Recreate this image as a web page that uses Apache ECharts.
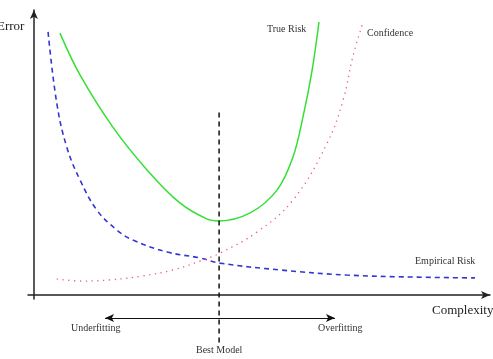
<!DOCTYPE html>
<html>
<head>
<meta charset="utf-8">
<script src="https://cdn.jsdelivr.net/npm/echarts@6/dist/echarts.min.js"></script>
<style>
  html, body { margin: 0; padding: 0; background: #fff; }
  #chart { width: 493px; height: 359px; }
</style>
</head>
<body>
<div id="chart"></div>
<script>
// curves, x = complexity, y = error (0..100)
const trueRisk = [
  [5.7, 91.9], [10.1, 77.2], [17.3, 58.9], [24.8, 43.9], [32.0, 32.3],
  [37.9, 26.7], [40.6, 26.0], [47.4, 28.8], [53.3, 36.8], [56.8, 48.4],
  [59.0, 62.5], [61.0, 78.9], [62.5, 95.8]
];
const empiricalRisk = [
  [3.1, 92.3], [5.0, 67.4], [7.2, 51.9], [10.1, 40.4], [13.8, 29.8],
  [18.2, 22.8], [21.7, 19.3], [29.2, 15.1], [36.4, 13.0], [40.8, 11.2],
  [53.9, 8.8], [68.6, 7.0], [83.1, 6.3], [96.7, 6.0]
];
const confidence = [
  [5.0, 5.6], [10.7, 4.9], [16.7, 5.3], [23.9, 6.7], [30.5, 8.8],
  [36.4, 11.9], [40.8, 14.7], [48.9, 22.1], [56.8, 33.3], [64.3, 53.3],
  [67.8, 68.4], [69.9, 83.5], [72.1, 95.4]
];
const bestModelX = 40.6;
const bestModelLine = [[bestModelX, 64], [bestModelX, -17]];
const fittingArrow = [[15.6, -8.1], [66.0, -8.1]];

const serif = '"Liberation Serif", "DejaVu Serif", serif';

const chart = echarts.init(document.getElementById('chart'));
chart.setOption({
  animation: false,
  grid: { left: 28, right: 3, top: 10, bottom: 60 },
  xAxis: {
    type: 'value', min: -1.3, max: 100,
    splitLine: { show: false }, axisTick: { show: false }, axisLabel: { show: false },
    axisLine: { onZero: true, symbol: ['none', 'arrow'], symbolSize: [6, 9],
      lineStyle: { color: '#222', width: 1.5 } }
  },
  yAxis: {
    type: 'value', min: -1.4, max: 100,
    splitLine: { show: false }, axisTick: { show: false }, axisLabel: { show: false },
    axisLine: { onZero: true, symbol: ['none', 'arrow'], symbolSize: [6, 9],
      lineStyle: { color: '#222', width: 1.5 } }
  },
  series: [
    {
      name: 'True Risk', type: 'line', data: trueRisk, smooth: 0.35,
      showSymbol: false, lineStyle: { color: '#33e033', width: 1.5 }
    },
    {
      name: 'Empirical Risk', type: 'line', data: empiricalRisk, smooth: 0.4,
      showSymbol: false, lineStyle: { color: '#3535d0', width: 1.6, type: [5, 4] }
    },
    {
      name: 'Confidence', type: 'line', data: confidence, smooth: 0.4,
      showSymbol: false, lineStyle: { color: '#e8607a', width: 1.3, type: [1.3, 4.5] }
    },
    {
      name: 'Best Model', type: 'line', data: bestModelLine, clip: false,
      showSymbol: false, lineStyle: { color: '#111', width: 1.5, type: [5, 4] }
    }
  ],
  graphic: [
    { type: 'text', left: -3, top: 20, style: { text: 'Error', font: '13px ' + serif, fill: '#222' } },
    { type: 'text', left: 432, top: 304, style: { text: 'Complexity', font: '13px ' + serif, fill: '#222' } },
    { type: 'text', left: 267, top: 24, style: { text: 'True Risk', font: '10px ' + serif, fill: '#333' } },
    { type: 'text', left: 367, top: 28, style: { text: 'Confidence', font: '10px ' + serif, fill: '#333' } },
    { type: 'text', left: 415, top: 256, style: { text: 'Empirical Risk', font: '10px ' + serif, fill: '#333' } },
    { type: 'text', left: 71, top: 323, style: { text: 'Underfitting', font: '10px ' + serif, fill: '#333' } },
    { type: 'text', left: 318, top: 323, style: { text: 'Overfitting', font: '10px ' + serif, fill: '#333' } },
    { type: 'text', left: 196, top: 345, style: { text: 'Best Model', font: '10px ' + serif, fill: '#333' } }
  ]
});

// the underfitting/overfitting arrow lies below the axis, so place it by pixel
const a = chart.convertToPixel({ gridIndex: 0 }, fittingArrow[0]);
const b = chart.convertToPixel({ gridIndex: 0 }, fittingArrow[1]);
chart.setOption({
  series: [{}, {}, {}, {
    markLine: {
      silent: true, symbol: ['arrow', 'arrow'], symbolSize: [6, 9],
      label: { show: false },
      lineStyle: { color: '#111', width: 1, type: 'solid' },
      data: [[{ x: a[0], y: a[1] }, { x: b[0], y: b[1] }]]
    }
  }]
});
</script>
</body>
</html>
